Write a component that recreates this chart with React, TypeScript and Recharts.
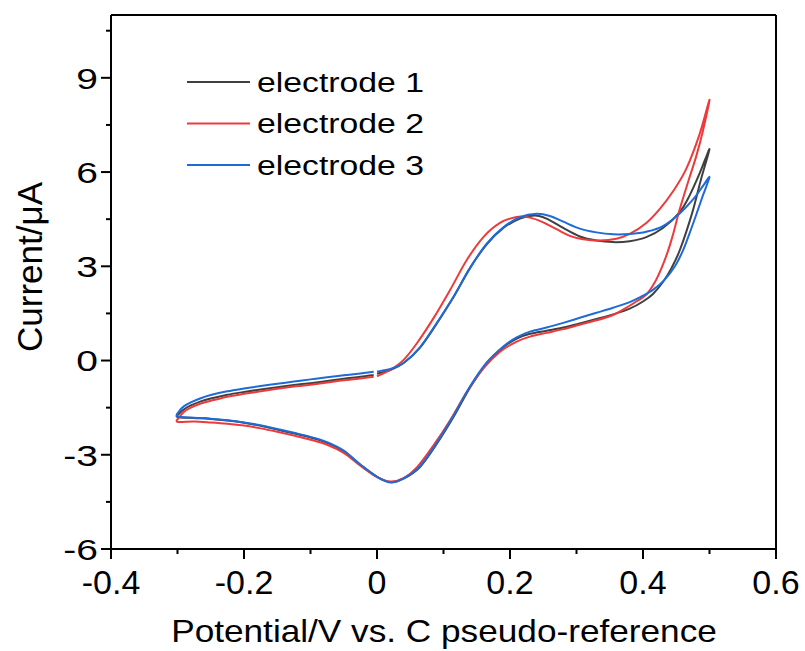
import { LineChart, Line, XAxis, YAxis, ReferenceLine, Legend } from "recharts";

// potential (V), current (µA) — scan 0 -> 0.5 -> -0.3 -> 0
const electrode1: [number, number][] = [
  [0.0, -0.42], [0.02, -0.3], [0.04, -0.08], [0.065, 0.42], [0.09, 1.18], [0.115, 2.02], [0.14, 2.95],
  [0.165, 3.7], [0.19, 4.22], [0.215, 4.52], [0.237, 4.62], [0.255, 4.52], [0.28, 4.22], [0.305, 3.95],
  [0.33, 3.82], [0.355, 3.77], [0.38, 3.8], [0.405, 3.93], [0.43, 4.22], [0.455, 4.72], [0.47, 5.25],
  [0.485, 5.95], [0.5, 6.73],
  [0.487, 5.75], [0.474, 4.7], [0.456, 3.55], [0.443, 2.95], [0.43, 2.5], [0.415, 2.12], [0.4, 1.88],
  [0.38, 1.65], [0.355, 1.47], [0.33, 1.32], [0.305, 1.18], [0.28, 1.05], [0.255, 0.95], [0.23, 0.85],
  [0.21, 0.7], [0.19, 0.42], [0.165, -0.1], [0.14, -0.86], [0.115, -1.8], [0.09, -2.65], [0.065, -3.38],
  [0.04, -3.76], [0.02, -3.87], [0.0, -3.7], [-0.025, -3.32], [-0.05, -2.89], [-0.075, -2.62],
  [-0.1, -2.45], [-0.125, -2.32], [-0.15, -2.2], [-0.175, -2.08], [-0.2, -1.98], [-0.225, -1.91],
  [-0.25, -1.86], [-0.275, -1.83], [-0.3, -1.8],
  [-0.297, -1.68], [-0.29, -1.55], [-0.28, -1.43], [-0.265, -1.3], [-0.25, -1.21], [-0.225, -1.09],
  [-0.2, -1.0], [-0.175, -0.92], [-0.15, -0.85], [-0.125, -0.78], [-0.1, -0.72], [-0.075, -0.65],
  [-0.05, -0.58], [-0.025, -0.52], [-0.005, -0.46],
];

const electrode2: [number, number][] = [
  [0.0, -0.5], [0.02, -0.3], [0.04, 0.02], [0.06, 0.55], [0.085, 1.35], [0.11, 2.25], [0.135, 3.2],
  [0.16, 3.93], [0.185, 4.38], [0.21, 4.57], [0.23, 4.55], [0.25, 4.4], [0.27, 4.18], [0.29, 3.97],
  [0.31, 3.86], [0.335, 3.82], [0.36, 3.88], [0.38, 4.03], [0.405, 4.38], [0.425, 4.82], [0.445, 5.38],
  [0.465, 6.1], [0.485, 7.2], [0.5, 8.3],
  [0.49, 7.3], [0.48, 6.5], [0.468, 5.7], [0.455, 4.8], [0.445, 4.0], [0.437, 3.45], [0.428, 2.95],
  [0.418, 2.5], [0.405, 2.1], [0.39, 1.88], [0.37, 1.62], [0.355, 1.45], [0.33, 1.28], [0.305, 1.14],
  [0.28, 1.0], [0.255, 0.88], [0.23, 0.76], [0.21, 0.6], [0.185, 0.28], [0.16, -0.25], [0.135, -1.0],
  [0.11, -1.9], [0.085, -2.7], [0.06, -3.4], [0.04, -3.74], [0.02, -3.85], [0.0, -3.71],
  [-0.025, -3.35], [-0.05, -2.94], [-0.075, -2.68], [-0.1, -2.52], [-0.125, -2.39], [-0.15, -2.27],
  [-0.175, -2.16], [-0.2, -2.07], [-0.225, -2.01], [-0.25, -1.97], [-0.275, -1.94], [-0.3, -1.95],
  [-0.297, -1.8], [-0.29, -1.63], [-0.28, -1.5], [-0.265, -1.37], [-0.25, -1.28], [-0.225, -1.15],
  [-0.2, -1.06], [-0.175, -0.98], [-0.15, -0.9], [-0.125, -0.83], [-0.1, -0.77], [-0.075, -0.7],
  [-0.05, -0.63], [-0.025, -0.57], [-0.005, -0.52],
];

const electrode3: [number, number][] = [
  [0.0, -0.35], [0.02, -0.27], [0.04, -0.08], [0.065, 0.43], [0.09, 1.2], [0.115, 2.02], [0.14, 2.95],
  [0.165, 3.72], [0.19, 4.24], [0.215, 4.56], [0.24, 4.67], [0.26, 4.6], [0.28, 4.42], [0.305, 4.2],
  [0.33, 4.08], [0.355, 4.02], [0.38, 4.03], [0.405, 4.1], [0.43, 4.28], [0.456, 4.7], [0.475, 5.12],
  [0.49, 5.55], [0.5, 5.84],
  [0.49, 5.25], [0.481, 4.7], [0.47, 4.05], [0.46, 3.5], [0.448, 3.0], [0.432, 2.56], [0.415, 2.25],
  [0.396, 2.02], [0.38, 1.86], [0.355, 1.68], [0.33, 1.52], [0.305, 1.36], [0.28, 1.2], [0.255, 1.05],
  [0.23, 0.92], [0.21, 0.74], [0.19, 0.45], [0.165, -0.06], [0.14, -0.82], [0.115, -1.76], [0.09, -2.62],
  [0.065, -3.36], [0.04, -3.75], [0.02, -3.88], [0.0, -3.7], [-0.025, -3.31], [-0.05, -2.87],
  [-0.075, -2.6], [-0.1, -2.43], [-0.125, -2.3], [-0.15, -2.18], [-0.175, -2.06], [-0.2, -1.97],
  [-0.225, -1.9], [-0.25, -1.85], [-0.275, -1.82], [-0.3, -1.78],
  [-0.297, -1.6], [-0.29, -1.45], [-0.28, -1.33], [-0.265, -1.2], [-0.25, -1.1], [-0.225, -0.98],
  [-0.2, -0.89], [-0.175, -0.81], [-0.15, -0.74], [-0.125, -0.67], [-0.1, -0.6], [-0.075, -0.53],
  [-0.05, -0.47], [-0.025, -0.41], [-0.005, -0.36],
];

const seriesNames = ["electrode 1", "electrode 2", "electrode 3"];
const seriesColors = ["#404040", "#ee3a3a", "#1f6bd6"];

const xTicks = [-0.4, -0.3, -0.2, -0.1, 0, 0.1, 0.2, 0.3, 0.4, 0.5, 0.6];
const yTicks = [-6, -4.5, -3, -1.5, 0, 1.5, 3, 4.5, 6, 7.5, 9, 10.5];

const FONT = "'Liberation Sans', Arial, Helvetica, sans-serif";

const toPoints = (arr: [number, number][]) => arr.map(([x, y]) => ({ x, y }));

// simple Catmull-Rom curve so the traces look smooth like the original
function smoothCurve(context: any) {
  let pts: number[][] = [];
  return {
    areaStart() {},
    areaEnd() {},
    lineStart() {
      pts = [];
    },
    point(x: number, y: number) {
      pts.push([+x, +y]);
    },
    lineEnd() {
      if (!pts.length) return;
      context.moveTo(pts[0][0], pts[0][1]);
      for (let i = 0; i < pts.length - 1; i++) {
        const p0 = pts[i - 1] || pts[i];
        const p1 = pts[i];
        const p2 = pts[i + 1];
        const p3 = pts[i + 2] || p2;
        context.bezierCurveTo(
          p1[0] + (p2[0] - p0[0]) / 6,
          p1[1] + (p2[1] - p0[1]) / 6,
          p2[0] - (p3[0] - p1[0]) / 6,
          p2[1] - (p3[1] - p1[1]) / 6,
          p2[0],
          p2[1]
        );
      }
    },
  };
}

function XTick({ x, y, payload }: any) {
  const v = Number(Number(payload.value).toFixed(1));
  const major = Math.round(v * 10) % 2 === 0;
  return (
    <g>
      <line x1={x} y1={y} x2={x} y2={y + (major ? 10 : 5)} stroke="#000" strokeWidth={2} />
      {major && (
        <text x={x} y={y + 45} textAnchor="middle" fontSize={34} fontFamily={FONT} fill="#000">
          {String(v)}
        </text>
      )}
    </g>
  );
}

function YTick({ x, y, payload }: any) {
  const v = Number(payload.value);
  const major = v % 3 === 0;
  return (
    <g>
      <line x1={x} y1={y} x2={x - (major ? 10 : 5)} y2={y} stroke="#000" strokeWidth={2} />
      {major && (
        <text
          transform={`translate(${x - 13},${y}) scale(1.3,1)`}
          textAnchor="end"
          dy="0.36em"
          fontSize={30}
          fontFamily={FONT}
          fill="#000"
        >
          {String(v)}
        </text>
      )}
    </g>
  );
}

function XTitle() {
  return (
    <text
      transform="translate(444,642) scale(1.1,1)"
      textAnchor="middle"
      fontSize={32}
      fontFamily={FONT}
      fill="#000"
    >
      Potential/V vs. C pseudo-reference
    </text>
  );
}

function YTitle() {
  return (
    <text
      transform="translate(42,267) rotate(-90)"
      textAnchor="middle"
      fontSize={35}
      fontFamily={FONT}
      fill="#000"
    >
      Current/μA
    </text>
  );
}

function LegendBox() {
  return (
    <svg width={320} height={140} style={{ overflow: "visible" }}>
      {seriesNames.map((name, i) => {
        const cy = 22 + i * 41.5;
        return (
          <g key={name}>
            <line x1={7} y1={cy} x2={70} y2={cy} stroke={seriesColors[i]} strokeWidth={2} />
            <text
              transform={`translate(77,${cy}) scale(1.25,1)`}
              dy="0.36em"
              fontSize={27}
              fontFamily={FONT}
              fill="#000"
            >
              {name}
            </text>
          </g>
        );
      })}
    </svg>
  );
}

export default function App() {
  const data = [toPoints(electrode1), toPoints(electrode2), toPoints(electrode3)];
  return (
    <div style={{ position: "absolute", left: 0, top: 0, width: 805, height: 651, background: "#fff" }}>
      <LineChart width={805} height={651} margin={{ top: 15, right: 29, left: 0, bottom: 0 }}>
        <XAxis
          dataKey="x"
          type="number"
          domain={[-0.4, 0.6]}
          ticks={xTicks}
          interval={0}
          height={102}
          tickSize={0}
          tickMargin={0}
          tick={<XTick />}
          axisLine={{ stroke: "#000", strokeWidth: 2 }}
          tickLine={false}
          label={() => <XTitle />}
        />
        <YAxis
          type="number"
          domain={[-6, 11]}
          ticks={yTicks}
          interval={0}
          width={111}
          tickSize={0}
          tickMargin={0}
          tick={<YTick />}
          axisLine={{ stroke: "#000", strokeWidth: 2 }}
          tickLine={false}
          label={() => <YTitle />}
        />
        <ReferenceLine y={11} stroke="#000" strokeWidth={2} />
        <ReferenceLine x={0.6} stroke="#000" strokeWidth={2} />
        {data.map((pts, i) => (
          <Line
            key={seriesNames[i]}
            data={pts}
            dataKey="y"
            name={seriesNames[i]}
            type={smoothCurve as any}
            stroke={seriesColors[i]}
            strokeWidth={2}
            dot={false}
            activeDot={false}
            isAnimationActive={false}
          />
        ))}
        <Legend
          layout="vertical"
          align="center"
          verticalAlign="middle"
          wrapperStyle={{ left: 180, top: 60, width: 320, height: 140 }}
          content={() => <LegendBox />}
        />
      </LineChart>
    </div>
  );
}
